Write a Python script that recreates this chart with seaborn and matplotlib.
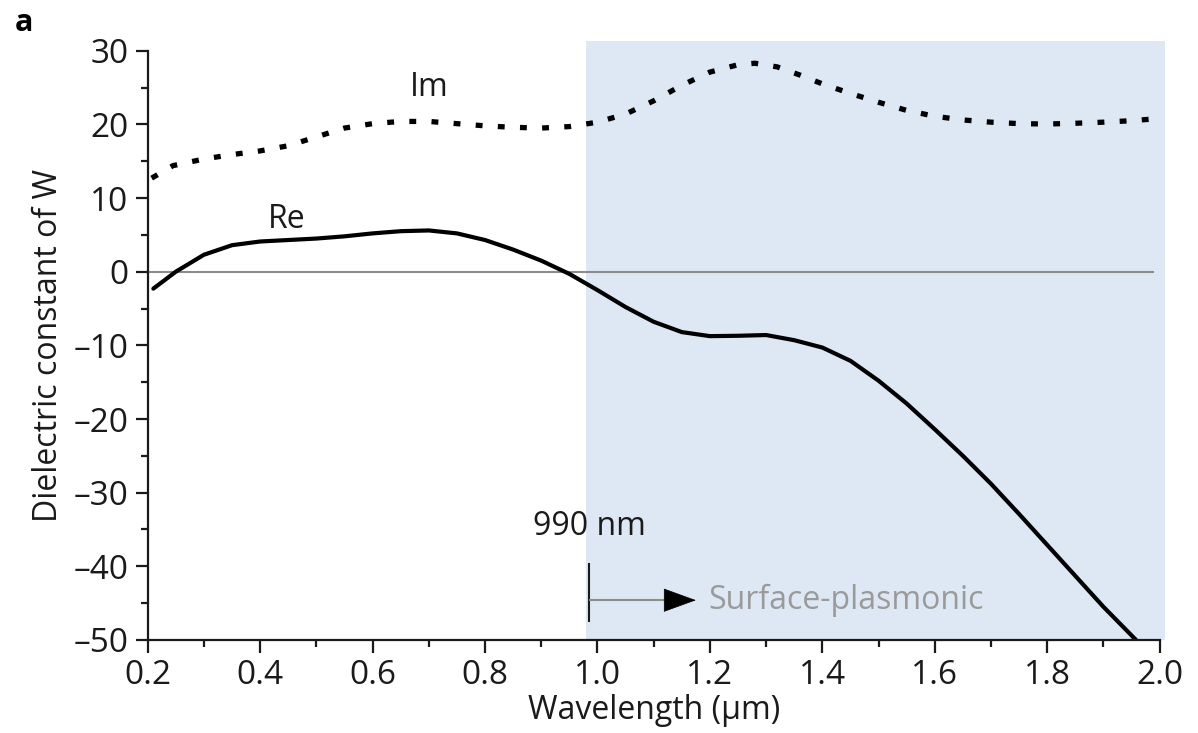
import numpy as np
import pandas as pd
import seaborn as sns
import matplotlib.pyplot as plt
from matplotlib.patches import Rectangle
from matplotlib.ticker import MultipleLocator

# ---- data ----
re_wl = [0.21, 0.25, 0.30, 0.35, 0.40, 0.45, 0.50, 0.55, 0.60, 0.65, 0.70, 0.75,
         0.80, 0.85, 0.90, 0.95, 1.00, 1.05, 1.10, 1.15, 1.20, 1.25, 1.30, 1.35,
         1.40, 1.45, 1.50, 1.55, 1.60, 1.65, 1.70, 1.75, 1.80, 1.85, 1.90, 1.958]
re_eps = [-2.3, 0.0, 2.3, 3.6, 4.1, 4.3, 4.5, 4.8, 5.2, 5.5, 5.6, 5.2,
          4.3, 3.0, 1.5, -0.3, -2.5, -4.8, -6.8, -8.2, -8.75, -8.7, -8.6, -9.3,
          -10.3, -12.1, -14.8, -17.9, -21.4, -25.0, -28.8, -32.9, -37.1, -41.3, -45.5, -50.0]

im_wl = [0.207, 0.245, 0.30, 0.35, 0.40, 0.45, 0.50, 0.55, 0.60, 0.65, 0.70, 0.75,
         0.80, 0.85, 0.90, 0.95, 1.00, 1.05, 1.10, 1.15, 1.20, 1.25, 1.28, 1.32,
         1.36, 1.40, 1.45, 1.50, 1.55, 1.60, 1.65, 1.70, 1.75, 1.80, 1.85, 1.90, 1.95, 2.00]
im_eps = [12.7, 14.4, 15.3, 15.9, 16.4, 17.1, 18.3, 19.5, 20.1, 20.4, 20.4, 20.1,
          19.8, 19.6, 19.5, 19.7, 20.3, 21.4, 23.2, 25.3, 27.1, 28.1, 28.3, 27.8,
          26.7, 25.5, 24.2, 23.0, 21.9, 21.1, 20.6, 20.3, 20.1, 20.05, 20.15, 20.3, 20.5, 20.8]

x_ticks = [0.2, 0.4, 0.6, 0.8, 1.0, 1.2, 1.4, 1.6, 1.8, 2.0]
y_ticks = [30, 20, 10, 0, -10, -20, -30, -40, -50]
cutoff_nm = 990

sns.set_theme(style="ticks")
plt.rcParams['font.family'] = ['Open Sans', 'DejaVu Sans']

fig = plt.figure(figsize=(11.98, 7.33), dpi=100)
ax = fig.add_axes([0.1233, 0.1269, 0.968 - 0.1233, 0.9308 - 0.1269])

ink = '#1a1a1a'
# shaded surface-plasmonic region
rect = Rectangle((0.98, -50), 2.01 - 0.98, 31.3 + 50, facecolor='#dde8f4',
                 edgecolor='none', zorder=0, clip_on=False)
ax.add_patch(rect)

# zero line
ax.hlines(0, 0.2, 1.99, color='#8c8c8c', lw=1.5, zorder=1)

df_re = pd.DataFrame({'wl': re_wl, 'eps': re_eps})
df_im = pd.DataFrame({'wl': im_wl, 'eps': im_eps})
sns.lineplot(data=df_re, x='wl', y='eps', ax=ax, color='black', lw=3.0,
             sort=False, estimator=None, zorder=3)
sns.lineplot(data=df_im, x='wl', y='eps', ax=ax, color='black', lw=3.8,
             sort=False, estimator=None, zorder=3)
ax.lines[-1].set_dashes((1.3, 2.9))
ax.lines[-1].set_dash_capstyle('butt')
for ln in ax.lines[-2:]:
    ln.set_solid_joinstyle('round')

ax.set_xlim(0.2, 2.0)
ax.set_ylim(-50, 30)
ax.set_xticks(x_ticks)
ax.set_xticklabels([f'{v:.1f}' for v in x_ticks])
ax.set_yticks(y_ticks)
ax.set_yticklabels([f'{v}'.replace('-', '\u2013') for v in y_ticks])
ax.xaxis.set_minor_locator(MultipleLocator(0.1))
ax.yaxis.set_minor_locator(MultipleLocator(5))

for s in ['top', 'right']:
    ax.spines[s].set_visible(False)
for s in ['left', 'bottom']:
    ax.spines[s].set_linewidth(1.6)
    ax.spines[s].set_color(ink)
    ax.spines[s].set_zorder(4)

ax.tick_params(axis='both', which='major', direction='out', length=9, width=1.6,
               color=ink, labelsize=24, labelcolor=ink, pad=5)
ax.tick_params(axis='both', which='minor', direction='out', length=5, width=1.6,
               color=ink)

ax.set_xlabel('Wavelength (μm)', fontsize=23, color=ink, labelpad=1)
ax.set_ylabel('Dielectric constant of W', fontsize=23, color=ink, labelpad=6)

# curve labels
ax.text(0.70, 22.8, 'Im', fontsize=23, color=ink, ha='center', va='bottom')
ax.text(0.448, 4.8, 'Re', fontsize=23, color=ink, ha='center', va='bottom')

# cutoff annotation
xc = cutoff_nm / 1000 - 0.005
ax.text(xc, -36.8, f'{cutoff_nm} nm', fontsize=23, color=ink, ha='center', va='bottom')
ax.vlines(xc, -47.6, -39.5, color=ink, lw=1.5, zorder=5)
ax.hlines(-44.6, xc, 1.15, color='#8c8c8c', lw=1.5, zorder=5)
ax.annotate('', xy=(1.175, -44.6), xytext=(1.13, -44.6),
            arrowprops=dict(arrowstyle='-|>,head_length=1.1,head_width=0.4',
                            color='black', lw=0.5, mutation_scale=20,
                            shrinkA=0, shrinkB=0), zorder=6)
ax.text(1.197, -44.6, 'Surface-plasmonic', fontsize=23, color='#9a9a9a',
        ha='left', va='center')

fig.text(0.012, 0.968, 'a', fontsize=22, fontweight='bold', color='black',
         ha='left', va='center')

fig.savefig('out.png', dpi=100)
